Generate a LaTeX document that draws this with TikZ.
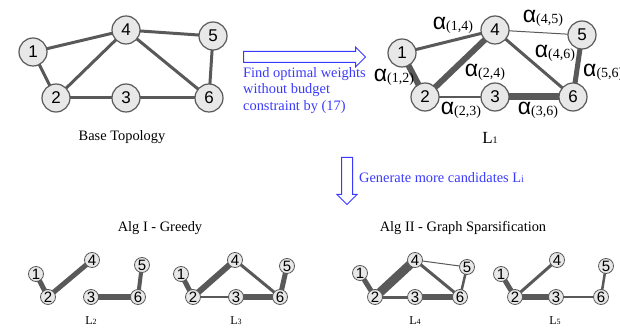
\documentclass[tikz,border=0pt]{standalone}
\usepackage{fontspec}
\setmainfont{Liberation Serif}
\newfontfamily\numfont{Liberation Sans}
\usetikzlibrary{shapes.arrows,backgrounds}
\definecolor{edgegray}{HTML}{595959}
\definecolor{nodegray}{HTML}{E8E8E8}
\definecolor{noteblue}{HTML}{3A3AFF}
\newcommand{\wt}[1]{{\numfont\fontsize{23}{23}\selectfont α}\raisebox{-1pt}{\fontsize{14}{14}\selectfont(#1)}}
\newcommand{\lname}[3]{{\fontsize{#1}{#1}\selectfont L}{\fontsize{#2}{#2}\selectfont #3}}

\begin{document}
\begin{tikzpicture}[x=1pt,y=-1pt,
big/.style={circle,draw=edgegray,fill=nodegray,line width=1.2pt,
minimum size=28pt,inner sep=0pt,font=\numfont\fontsize{17}{17}\selectfont},
small/.style={circle,draw=edgegray,fill=nodegray,line width=0.8pt,
minimum size=15pt,inner sep=0pt,font=\numfont\fontsize{15}{15}\selectfont},
link/.style={draw=edgegray,line width=#1},
link/.default=3pt,
caption/.style={font=\fontsize{14.4}{14.4}\selectfont,inner sep=0pt},
note/.style={text=noteblue,font=\fontsize{14.4}{16.5}\selectfont,align=left,inner sep=0pt},
hollow/.style={single arrow,draw=noteblue,fill=white,line width=1pt,
inner xsep=0pt,inner ysep=5pt,single arrow head extend=4.5pt}
]
\useasboundingbox (0,0) rectangle (620,328);

% base topology
\node[big] (b1) at (33,52) {1};
\node[big] (b4) at (126,30) {4};
\node[big] (b5) at (213,36) {5};
\node[big] (b2) at (56,98) {2};
\node[big] (b3) at (126,98) {3};
\node[big] (b6) at (209,98) {6};
\node[caption] (basecap) at (122,137) {Base Topology};

% optimal weights L1
\node[big] (w1) at (402,53) {1};
\node[big] (w4) at (495,30) {4};
\node[big] (w5) at (582,35) {5};
\node[big] (w2) at (425,97) {2};
\node[big] (w3) at (495,97) {3};
\node[big] (w6) at (573,97) {6};
\node[inner sep=0pt] (a14) at (453,25) {\wt{1,4}};
\node[inner sep=0pt] (a45) at (543,18) {\wt{4,5}};
\node[inner sep=0pt] (a12) at (394,77) {\wt{1,2}};
\node[inner sep=0pt] (a24) at (485,72) {\wt{2,4}};
\node[inner sep=0pt] (a46) at (555,53) {\wt{4,6}};
\node[inner sep=0pt,anchor=west] (a56) at (583,72) {\wt{5,6}};
\node[inner sep=0pt] (a23) at (461,110) {\wt{2,3}};
\node[inner sep=0pt] (a36) at (538,110) {\wt{3,6}};
\node[inner sep=0pt] (lone) at (490,138) {\lname{17}{10}{1}};

% arrows and notes
\node[hollow,minimum height=122pt,anchor=tail] (findarrow) at (243,57) {};
\node[note,anchor=north west] (findtxt) at (243,67)
{Find optimal weights\\without budget\\constraint by (17)};
\node[hollow,rotate=-90,minimum height=47pt,anchor=tail] (genarrow) at (347,157) {};
\node[note,anchor=west] (gentxt) at (359,178)
{Generate more candidates L{\fontsize{10}{10}\selectfont i}};

% candidate titles
\node[caption] (greedycap) at (160,228) {Alg I - Greedy};
\node[caption] (sparsecap) at (463,228) {Alg II - Graph Sparsification};

% L2
\node[small] (ga1) at (36,274) {1};
\node[small] (ga4) at (92,260) {4};
\node[small] (ga5) at (142,265) {5};
\node[small] (ga2) at (48,297) {2};
\node[small] (ga3) at (91,297) {3};
\node[small] (ga6) at (138,297) {6};
\node[inner sep=0pt] (ltwo) at (91,321) {\lname{12}{8}{2}};

% L3
\node[small] (gb1) at (181,274) {1};
\node[small] (gb4) at (235,260) {4};
\node[small] (gb5) at (287,266) {5};
\node[small] (gb2) at (193,297) {2};
\node[small] (gb3) at (236,297) {3};
\node[small] (gb6) at (280,297) {6};
\node[inner sep=0pt] (lthree) at (236,321) {\lname{12}{8}{3}};

% L4
\node[small] (sa1) at (360,273) {1};
\node[small] (sa4) at (415,260) {4};
\node[small] (sa5) at (467,267) {5};
\node[small] (sa2) at (375,297) {2};
\node[small] (sa3) at (415,297) {3};
\node[small] (sa6) at (460,297) {6};
\node[inner sep=0pt] (lfour) at (415,321) {\lname{12}{8}{4}};

% L5
\node[small] (sb1) at (501,274) {1};
\node[small] (sb4) at (557,260) {4};
\node[small] (sb5) at (606,266) {5};
\node[small] (sb2) at (515,297) {2};
\node[small] (sb3) at (556,297) {3};
\node[small] (sb6) at (601,297) {6};
\node[inner sep=0pt] (lfive) at (555,321) {\lname{12}{8}{5}};

\begin{scope}[on background layer]
\draw[link] (b1.center) -- (b4.center);
\draw[link] (b1.center) -- (b2.center);
\draw[link] (b2.center) -- (b4.center);
\draw[link] (b2.center) -- (b3.center);
\draw[link] (b3.center) -- (b6.center);
\draw[link] (b4.center) -- (b6.center);
\draw[link] (b4.center) -- (b5.center);
\draw[link] (b5.center) -- (b6.center);

\draw[link=3pt] (w1.center) -- (w4.center);
\draw[link=1pt] (w4.center) -- (w5.center);
\draw[link=6pt] (w1.center) -- (w2.center);
\draw[link=6pt] (w2.center) -- (w4.center);
\draw[link=3pt] (w4.center) -- (w6.center);
\draw[link=5pt] (w5.center) -- (w6.center);
\draw[link=2.5pt] (w2.center) -- (w3.center);
\draw[link=7pt] (w3.center) -- (w6.center);

\draw[link=5pt] (ga1.center) -- (ga2.center);
\draw[link=5pt] (ga2.center) -- (ga4.center);
\draw[link=6pt] (ga3.center) -- (ga6.center);
\draw[link=4pt] (ga5.center) -- (ga6.center);

\draw[link=5pt] (gb1.center) -- (gb2.center);
\draw[link=6pt] (gb2.center) -- (gb4.center);
\draw[link=3pt] (gb4.center) -- (gb6.center);
\draw[link=2.5pt] (gb2.center) -- (gb3.center);
\draw[link=6pt] (gb3.center) -- (gb6.center);
\draw[link=5pt] (gb5.center) -- (gb6.center);

\draw[link=5pt] (sa1.center) -- (sa2.center);
\draw[link=9pt] (sa2.center) -- (sa4.center);
\draw[link=1pt] (sa4.center) -- (sa5.center);
\draw[link=3pt] (sa4.center) -- (sa6.center);
\draw[link=2.5pt] (sa5.center) -- (sa6.center);
\draw[link=3pt] (sa2.center) -- (sa3.center);
\draw[link=6pt] (sa3.center) -- (sa6.center);

\draw[link=5pt] (sb1.center) -- (sb2.center);
\draw[link=3pt] (sb2.center) -- (sb4.center);
\draw[link=6pt] (sb2.center) -- (sb3.center);
\draw[link=2.5pt] (sb3.center) -- (sb6.center);
\draw[link=2.5pt] (sb5.center) -- (sb6.center);
\end{scope}
\end{tikzpicture}
\end{document}
